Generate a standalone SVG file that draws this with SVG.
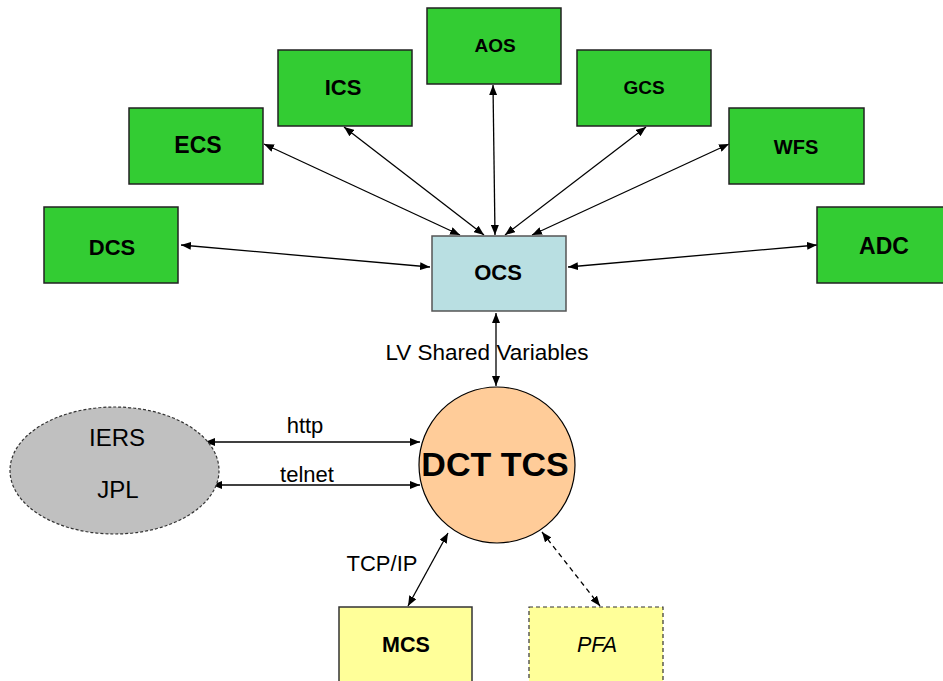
<svg xmlns="http://www.w3.org/2000/svg" width="943" height="681" viewBox="0 0 943 681">
<defs>
<style>
text{font-family:"Liberation Sans",Arial,sans-serif;fill:#000;text-anchor:middle}
.g{fill:#33CC33;stroke:#222;stroke-width:1.5}
.b{font-weight:bold}
.c{stroke:#000;stroke-width:1.3;fill:none;marker-start:url(#ah);marker-end:url(#ah)}
.d{stroke-dasharray:5,4}
</style>
<marker id="ah" markerUnits="userSpaceOnUse" markerWidth="11" markerHeight="8" refX="10" refY="4" orient="auto-start-reverse">
<path d="M0,0 L10,4 L0,8 z" fill="#000"/>
</marker>
</defs>
<rect width="943" height="681" fill="#fff"/>
<g id="connectors">
<line class="c" x1="181" y1="245" x2="430" y2="267"/>
<line class="c" x1="264" y1="144" x2="460" y2="235"/>
<line class="c" x1="344" y1="127" x2="484" y2="235"/>
<line class="c" x1="493" y1="85" x2="495" y2="235"/>
<line class="c" x1="646" y1="127" x2="505" y2="235"/>
<line class="c" x1="729" y1="144" x2="532" y2="235"/>
<line class="c" x1="568" y1="267" x2="817" y2="245"/>
<line class="c" x1="496" y1="313" x2="496" y2="386"/>
<line class="c" x1="205" y1="442" x2="420" y2="442"/>
<line class="c" x1="212" y1="485" x2="420" y2="485"/>
<line class="c" x1="448" y1="533" x2="408" y2="606"/>
<line class="c d" x1="542" y1="532" x2="600" y2="606"/>
<text x="305" y="433" font-size="22">http</text>
<text x="307" y="482" font-size="22">telnet</text>
<text x="382" y="571" font-size="22">TCP/IP</text>
<text x="487" y="360" font-size="22.5">LV Shared Variables</text>
</g>
<g id="AOS"><rect class="g" x="427" y="8" width="134" height="76"/><text class="b" x="495" y="52" font-size="19">AOS</text></g>
<g id="ICS"><rect class="g" x="278" y="50" width="134" height="76"/><text class="b" x="343" y="95" font-size="22">ICS</text></g>
<g id="GCS"><rect class="g" x="577" y="50" width="134" height="76"/><text class="b" x="644" y="94" font-size="19">GCS</text></g>
<g id="ECS"><rect class="g" x="129" y="108" width="134" height="76"/><text class="b" x="198" y="153" font-size="23">ECS</text></g>
<g id="WFS"><rect class="g" x="729" y="108" width="135" height="76"/><text class="b" x="796" y="154" font-size="20">WFS</text></g>
<g id="DCS"><rect class="g" x="44" y="207" width="134" height="76"/><text class="b" x="112" y="255" font-size="22">DCS</text></g>
<g id="ADC"><rect class="g" x="817" y="207" width="134" height="76"/><text class="b" x="884" y="254" font-size="23">ADC</text></g>
<g id="OCS"><rect x="432" y="236" width="134" height="75" fill="#B9DFE2" stroke="#555" stroke-width="1.5"/><text class="b" x="498" y="280" font-size="22">OCS</text></g>
<g id="DCT_TCS"><circle cx="497" cy="465" r="78" fill="#FFCC99" stroke="#000" stroke-width="1.2"/><text class="b" x="495" y="476" font-size="34">DCT TCS</text></g>
<g id="IERS_JPL"><ellipse cx="114.5" cy="470.5" rx="104.5" ry="63.5" fill="#C0C0C0" stroke="#333" stroke-width="1.2" stroke-dasharray="3,2"/><text x="117" y="446" font-size="24">IERS</text><text x="118" y="498" font-size="24">JPL</text></g>
<g id="MCS"><rect x="339" y="607" width="133" height="80" fill="#FFFF99" stroke="#333" stroke-width="1.5"/><text class="b" x="406" y="652" font-size="21.5">MCS</text></g>
<g id="PFA"><rect x="529" y="607" width="134" height="80" fill="#FFFF99" stroke="#333" stroke-width="1.2" stroke-dasharray="4,3"/><text x="597" y="652" font-size="21.5" font-style="italic">PFA</text></g>
</svg>
